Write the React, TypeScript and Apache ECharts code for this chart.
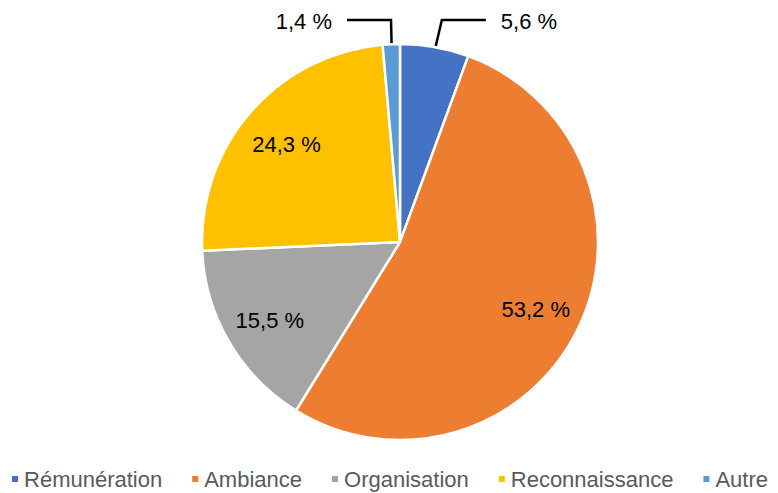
import React, { useEffect, useRef } from "react";
import * as echarts from "echarts";

const categories = ["Rémunération", "Ambiance", "Organisation", "Reconnaissance", "Autre"];
const values = [5.6, 53.2, 15.5, 24.3, 1.4];
const colors = ["#4472C4", "#ED7D31", "#A5A5A5", "#FFC000", "#5B9BD5"];
const outsideLabels = [true, false, false, false, true];

const CX = 400;
const CY = 242;
const R = 198;
const FONT = "'Liberation Sans', Arial, sans-serif";

const fmt = (v: number) => v.toFixed(1).replace(".", ",") + " %";

export default function App() {
  const ref = useRef<HTMLDivElement>(null);
  useEffect(() => {
    if (!ref.current) return;
    const chart = echarts.init(ref.current, null, { renderer: "svg" });
    const data = categories.map((name, i) => ({
      name,
      value: values[i],
      itemStyle: { color: colors[i] },
      label: outsideLabels[i] ? { position: "outside" } : { position: "inside" },
      labelLine: { show: outsideLabels[i], lineStyle: { color: "#000", width: 2.5 } },
    }));
    chart.setOption({
      animation: false,
      legend: {
        data: categories,
        left: "center",
        top: 462,
        icon: "rect",
        itemWidth: 8,
        itemHeight: 8,
        itemGap: 28,
        textStyle: { fontFamily: FONT, fontSize: 22, color: "#595959", lineHeight: 24 },
      },
      series: [
        {
          type: "pie",
          center: [CX, CY],
          radius: [0, R],
          startAngle: 90,
          clockwise: true,
          avoidLabelOverlap: false,
          itemStyle: { borderColor: "#fff", borderWidth: 2.5 },
          label: {
            show: true,
            position: "inside",
            fontFamily: FONT,
            fontSize: 22,
            color: "#000",
            formatter: (p: any) => fmt(p.value),
          },
          labelLine: { show: false },
          emphasis: { disabled: true },
          data,
          labelLayout: (params: any) => {
            const i = params.dataIndex;
            if (!outsideLabels[i]) {
              const lr = params.labelRect;
              const lx = lr.x + lr.width / 2;
              const ly = lr.y + lr.height / 2;
              return {
                x: CX + (lx - CX) * 1.48,
                y: CY + (ly - CY) * 1.48 + 2,
                align: "center",
                verticalAlign: "middle",
              };
            }
            const p0 = params.labelLinePoints ? params.labelLinePoints[0] : [CX, CY - R];
            const ux = (p0[0] - CX) / R;
            const uy = (p0[1] - CY) / R;
            const sx = CX + ux * (R - 16);
            const sy = CY + uy * (R - 16);
            const side = ux >= 0 ? 1 : -1;
            const kx = sx + (side > 0 ? 10 : -1);
            const ky = CY - R - 24;
            const ex = kx + side * 44;
            return {
              x: ex + side * 15,
              y: ky + 1,
              align: side > 0 ? "left" : "right",
              verticalAlign: "middle",
              labelLinePoints: [
                [sx, sy],
                [kx, ky],
                [ex, ky],
              ],
            };
          },
        },
      ],
    });
    return () => chart.dispose();
  }, []);
  return (
    <div
      ref={ref}
      style={{ position: "fixed", left: 0, top: 0, width: 778, height: 493, background: "#fff" }}
    />
  );
}
